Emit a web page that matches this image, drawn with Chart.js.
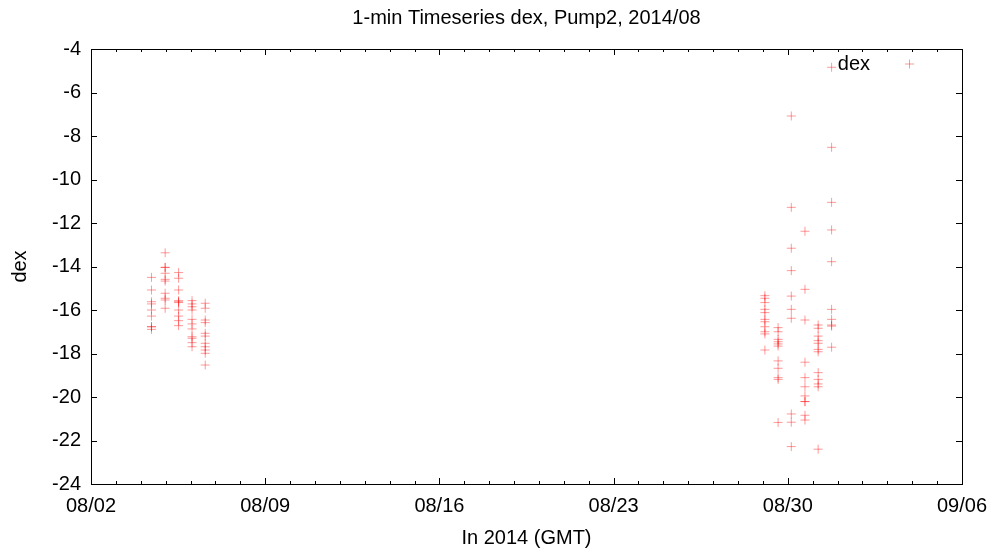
<!DOCTYPE html>
<html>
<head>
<meta charset="utf-8">
<script src="https://cdn.jsdelivr.net/npm/chart.js@4"></script>
<style>
  html, body { margin: 0; padding: 0; background: #fff; }
  #dexChart { display: block; }
</style>
</head>
<body>
<canvas id="dexChart" width="998" height="559"></canvas>
<script>
// x = days since 2014/08/02 00:00 GMT, one column of 1-min points per burst
const colDays = [2.43, 2.98, 3.52, 4.06, 4.59, 27.08, 27.61, 28.14, 28.69, 29.22, 29.76];
const colDex = [
  [-14.5, -15.08, -15.62, -15.72, -16.0, -16.28, -16.77, -16.77, -16.89],
  [-13.37, -14.04, -14.04, -14.31, -14.59, -14.67, -15.23, -15.46, -15.54, -15.92],
  [-14.28, -14.54, -15.08, -15.57, -15.62, -15.66, -16.0, -16.28, -16.49, -16.72],
  [-15.57, -15.72, -15.85, -16.0, -16.43, -16.64, -16.87, -17.23, -17.30, -17.50, -17.69],
  [-15.69, -15.92, -16.46, -16.58, -17.07, -17.2, -17.53, -17.69, -17.84, -17.99, -18.53],
  [-15.34, -15.46, -15.66, -15.97, -16.12, -16.43, -16.54, -16.77, -17.0, -17.1, -17.84],
  [-16.81, -17.0, -17.35, -17.46, -17.56, -17.66, -18.34, -18.68, -19.11, -19.19, -21.17],
  [-7.08, -11.28, -13.16, -14.19, -15.36, -15.97, -16.38, -20.78, -21.16, -22.28],
  [-12.38, -15.05, -16.46, -18.4, -19.11, -19.53, -19.95, -20.21, -20.21, -20.84, -21.06],
  [-16.69, -16.84, -17.2, -17.41, -17.53, -17.81, -17.92, -18.88, -19.19, -19.4, -19.53, -22.4],
  [-4.84, -8.52, -11.05, -12.32, -13.78, -15.97, -16.43, -16.69, -16.74, -17.71],
];
const dateLabels = ["08/02", "08/09", "08/16", "08/23", "08/30", "09/06"];
const dexMin = -24, dexMax = -4, dexStep = 2;

const FONT = "'Liberation Sans', Arial, Helvetica, sans-serif";
const pointColor = "rgba(255,0,0,0.4)";

const points = [];
colDays.forEach((d, i) => {
  colDex[i].forEach(v => points.push({ x: d, y: v }));
});

// gnuplot style frame: box round the plot, ticks pointing inward on all sides
const framePlugin = {
  id: "frame",
  afterDatasetsDraw(chart) {
    const { ctx, chartArea: a, scales } = chart;
    ctx.save();
    ctx.strokeStyle = "#000";
    ctx.lineWidth = 1;
    ctx.strokeRect(Math.round(a.left) + 0.5, Math.round(a.top) + 0.5,
                   Math.round(a.right - a.left), Math.round(a.bottom - a.top));
    ctx.beginPath();
    scales.x.ticks.forEach(t => {
      const px = Math.round(scales.x.getPixelForValue(t.value)) + 0.5;
      const len = t.value % 7 === 0 ? 6 : 3;
      ctx.moveTo(px, a.bottom); ctx.lineTo(px, a.bottom - len);
      ctx.moveTo(px, a.top); ctx.lineTo(px, a.top + len);
    });
    scales.y.ticks.forEach(t => {
      const py = Math.round(scales.y.getPixelForValue(t.value)) + 0.5;
      ctx.moveTo(a.left, py); ctx.lineTo(a.left + 6, py);
      ctx.moveTo(a.right, py); ctx.lineTo(a.right - 6, py);
    });
    ctx.stroke();

    // key, top right inside the plot
    const ky = a.top + 15;
    ctx.fillStyle = "#000";
    ctx.font = "20px " + FONT;
    ctx.textAlign = "right";
    ctx.textBaseline = "middle";
    ctx.fillText("dex", a.right - 92, ky);
    ctx.strokeStyle = pointColor;
    ctx.beginPath();
    ctx.moveTo(a.right - 57, ky); ctx.lineTo(a.right - 48, ky);
    ctx.moveTo(a.right - 52.5, ky - 4.5); ctx.lineTo(a.right - 52.5, ky + 4.5);
    ctx.stroke();
    ctx.restore();
  }
};

new Chart(document.getElementById("dexChart"), {
  type: "scatter",
  data: {
    datasets: [{
      label: "dex",
      data: points,
      pointStyle: "cross",
      pointRadius: 4.5,
      pointBorderWidth: 1,
      borderColor: pointColor,
      backgroundColor: pointColor,
    }]
  },
  options: {
    responsive: false,
    animation: false,
    layout: { padding: { left: 0, right: 36, top: 0, bottom: 0 } },
    plugins: {
      legend: { display: false },
      tooltip: { enabled: false },
      title: {
        display: true,
        fullSize: false,
        text: "1-min Timeseries dex, Pump2, 2014/08",
        color: "#000",
        font: { family: FONT, size: 20, weight: "normal" },
        padding: { top: 6, bottom: 19 },
      },
    },
    scales: {
      x: {
        type: "linear",
        min: 0,
        max: 35,
        afterFit(s) { s.height = 75; },
        border: { display: false },
        grid: { display: true, drawOnChartArea: false, drawTicks: false },
        ticks: {
          stepSize: 1,
          autoSkip: false,
          maxRotation: 0,
          padding: 10,
          color: "#000",
          font: { family: FONT, size: 20 },
          callback: v => (v % 7 === 0 ? dateLabels[v / 7] : ""),
        },
        title: {
          display: true,
          text: "In 2014 (GMT)",
          color: "#000",
          font: { family: FONT, size: 20 },
          padding: { top: 0, bottom: 9 },
        },
      },
      y: {
        min: dexMin,
        max: dexMax,
        afterFit(s) { s.width = 91; },
        border: { display: false },
        grid: { display: true, drawOnChartArea: false, drawTicks: false },
        ticks: {
          stepSize: dexStep,
          padding: 10,
          color: "#000",
          font: { family: FONT, size: 20 },
        },
        title: {
          display: true,
          text: "dex",
          color: "#000",
          font: { family: FONT, size: 20 },
          padding: { top: 8, bottom: 0 },
        },
      },
    },
  },
  plugins: [framePlugin],
});
</script>
</body>
</html>
